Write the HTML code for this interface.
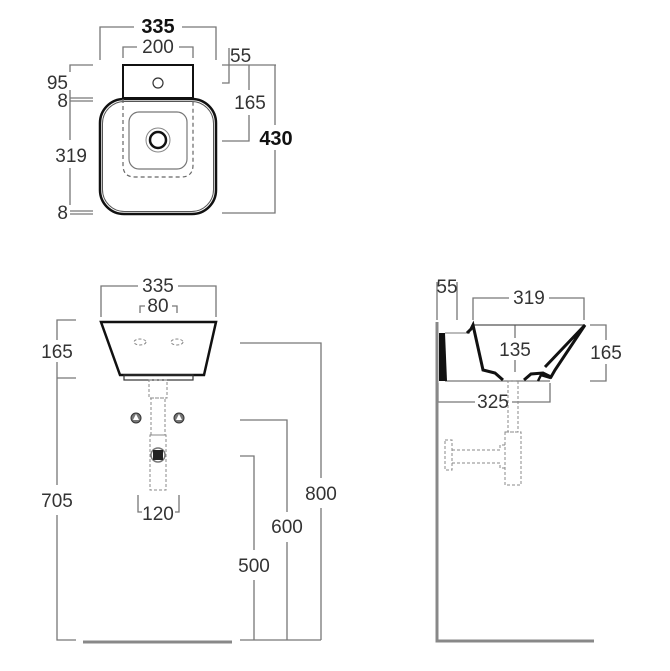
<!DOCTYPE html>
<html><head><style>
html,body{margin:0;padding:0;background:#fff;}
svg{display:block;}
text{font-family:"Liberation Sans",sans-serif;font-size:19px;fill:#333;}
.b{font-weight:bold;fill:#111;}
</style></head><body>
<svg width="670" height="671" viewBox="0 0 670 671" xmlns="http://www.w3.org/2000/svg">
<g fill="none" stroke="#777" stroke-width="1.3">
<polyline points="100,60 100,27 134,27"/><polyline points="182,27 216,27 216,60"/>
<polyline points="123,58 123,47 137,47"/><polyline points="179,47 193,47 193,58"/>
<polyline points="229,48 229,83 222,83"/>
<line x1="222" y1="65" x2="276" y2="65"/>
<polyline points="249,65 249,90"/><polyline points="249,115 249,141 222,141"/>
<polyline points="275,65 275,125"/><polyline points="275,150 275,213 222,213"/>
<polyline points="93,65 70,65 70,72"/><line x1="70" y1="90" x2="70" y2="140"/><line x1="70" y1="168" x2="70" y2="205"/>
<line x1="70" y1="98" x2="93" y2="98"/><line x1="70" y1="101" x2="93" y2="101"/>
<line x1="70" y1="211" x2="93" y2="211"/><line x1="70" y1="214" x2="93" y2="214"/>
<polyline points="101,317 101,286 138,286"/><polyline points="178,286 216,286 216,317"/>
<polyline points="140,313 140,306 145,306"/><polyline points="172,306 177,306 177,313"/>
<polyline points="76,320 57,320 57,340"/><line x1="57" y1="362" x2="57" y2="485"/><polyline points="57,515 57,640 76,640"/>
<line x1="57" y1="378" x2="76" y2="378"/>
<polyline points="240,343 321,343 321,478"/><line x1="321" y1="508" x2="321" y2="640"/>
<polyline points="240,420 287,420 287,512"/><line x1="287" y1="542" x2="287" y2="640"/>
<polyline points="240,456 254,456 254,550"/><line x1="254" y1="580" x2="254" y2="640"/>
<line x1="240" y1="640" x2="321" y2="640"/>
<polyline points="138,495 138,512 142,512"/><polyline points="175,512 179,512 179,495"/>
<line x1="437" y1="282" x2="437" y2="320"/><line x1="457" y1="282" x2="457" y2="320"/>
<polyline points="473,320 473,298 509,298"/><polyline points="549,298 584,298 584,320"/>
<line x1="515" y1="325" x2="515" y2="338"/><line x1="515" y1="360" x2="515" y2="372"/>
<polyline points="590,325 606,325 606,340"/><polyline points="606,364 606,381 590,381"/>
<polyline points="438,383 438,402 475,402"/><polyline points="512,402 550,402 550,383"/>
<line x1="445" y1="381" x2="550" y2="381"/>
</g>
<rect x="123" y="65" width="70" height="33" fill="none" stroke="#111" stroke-width="2"/>
<circle cx="158" cy="83" r="5" fill="none" stroke="#333" stroke-width="1.2"/>
<rect x="100" y="99" width="116" height="115" rx="24" fill="none" stroke="#111" stroke-width="2.5"/>
<rect x="102.5" y="101.5" width="111" height="110" rx="22" fill="none" stroke="#555" stroke-width="1"/>
<path d="M123,99 V165 Q123,177 135,177 H181 Q193,177 193,165 V99" fill="none" stroke="#666" stroke-width="1.2" stroke-dasharray="4,3"/>
<rect x="129" y="112" width="58" height="57" rx="10" fill="none" stroke="#777" stroke-width="1.2"/>
<circle cx="158" cy="140" r="12" fill="none" stroke="#888" stroke-width="1"/>
<circle cx="158" cy="140" r="8" fill="none" stroke="#111" stroke-width="2.5"/>
<polygon points="101,322 216,322 204,375 120,375" fill="none" stroke="#111" stroke-width="2.5"/>
<rect x="124" y="375" width="69" height="5" fill="none" stroke="#333" stroke-width="1.2"/>
<g fill="none" stroke="#888" stroke-width="1" stroke-dasharray="3,2">
<ellipse cx="140" cy="342" rx="6" ry="3"/><ellipse cx="177" cy="342" rx="6" ry="3"/>
<rect x="149" y="380" width="18" height="18"/><rect x="151" y="398" width="14" height="37"/><rect x="150" y="435" width="16" height="55"/>
<rect x="445" y="440" width="7" height="30"/>
<path d="M452,450 H500 V445 H505 M452,463 H500 V468 H505"/>
<rect x="505" y="432" width="16" height="53"/><rect x="508" y="381" width="10" height="51"/>
</g>
<circle cx="136" cy="418" r="5" fill="#777" stroke="#333"/><circle cx="179" cy="418" r="5" fill="#777" stroke="#333"/>
<path d="M133,420 L136,414 L139,420Z M176,420 L179,414 L182,420Z" fill="#fff"/>
<circle cx="158" cy="455" r="7" fill="none" stroke="#777" stroke-width="1.5"/>
<rect x="153" y="450" width="10" height="10" fill="#222"/>
<line x1="83" y1="642" x2="232" y2="642" stroke="#888" stroke-width="3"/>
<polyline points="437,322 437,641 594,641" fill="none" stroke="#888" stroke-width="3"/>
<polygon points="439,333 445,333 447,381 439,381" fill="#111"/>
<line x1="445" y1="333" x2="470" y2="333" stroke="#777" stroke-width="1"/>
<line x1="473" y1="325" x2="585" y2="325" stroke="#555" stroke-width="1.2"/>
<polyline points="467,333 471,329 473,325 483,370 495,373 503,380" fill="none" stroke="#111" stroke-width="3"/>
<polyline points="524,380 531,374 543,373 551,377 555,370 585,325 545,367" fill="none" stroke="#111" stroke-width="3"/>
<polyline points="538,381 541,375 551,378" fill="none" stroke="#111" stroke-width="2.5"/>
<g>
<text x="158" y="33" text-anchor="middle" class="b" style="font-size:20px">335</text>
<text x="158" y="53" text-anchor="middle">200</text>
<text x="230" y="62">55</text>
<text x="68" y="89" text-anchor="end">95</text>
<text x="68" y="107" text-anchor="end">8</text>
<text x="87" y="162" text-anchor="end">319</text>
<text x="68" y="219" text-anchor="end">8</text>
<text x="250" y="109" text-anchor="middle">165</text>
<text x="276" y="145" text-anchor="middle" class="b" style="font-size:20px">430</text>
<text x="158" y="292" text-anchor="middle">335</text>
<text x="158" y="312" text-anchor="middle">80</text>
<text x="57" y="358" text-anchor="middle">165</text>
<text x="57" y="507" text-anchor="middle">705</text>
<text x="321" y="500" text-anchor="middle">800</text>
<text x="287" y="533" text-anchor="middle">600</text>
<text x="254" y="572" text-anchor="middle">500</text>
<text x="158" y="520" text-anchor="middle">120</text>
<text x="447" y="293" text-anchor="middle">55</text>
<text x="529" y="304" text-anchor="middle">319</text>
<text x="515" y="356" text-anchor="middle">135</text>
<text x="606" y="359" text-anchor="middle">165</text>
<text x="493" y="408" text-anchor="middle">325</text>
</g>
</svg>
</body></html>
